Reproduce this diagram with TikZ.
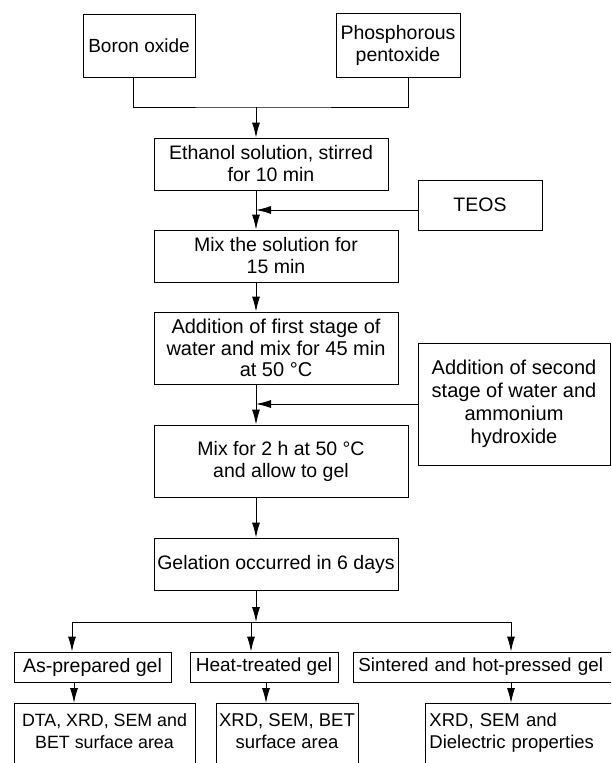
\documentclass[tikz,border=0pt]{standalone}
\usepackage{fontspec}
\setmainfont{Liberation Sans}
\usetikzlibrary{arrows.meta}
\tikzset{
  basic/.style  = {draw, rectangle, line width=0.9pt, align=center, inner sep=2pt,
                   font=\fontsize{19.5}{22}\selectfont},
  stepbox/.style = {basic},
  inbox/.style   = {basic},
  gelbox/.style  = {basic, minimum height=30pt},
  testbox/.style = {basic, anchor=north, inner ysep=3pt, text height=42.5pt, text depth=60pt,
                    font=\fontsize{18.5}{22.5}\selectfont}
}

\begin{document}
\begin{tikzpicture}[x=1pt,y=-1pt,>={Latex[length=15pt,width=8pt]},line width=0.9pt]
\useasboundingbox (0,0) rectangle (611,763);
\clip (0,0) rectangle (611,763);

% starting materials and additions are inbox, main line is stepbox
\node[inbox, minimum width=112pt, minimum height=63pt, font=\fontsize{19}{22}\selectfont] (boron) at (139,45.5) {Boron oxide};
\node[inbox, minimum width=124pt, minimum height=64pt] (phos) at (398,45) {Phosphorous\\pentoxide};

\node[stepbox, minimum width=234pt, minimum height=52pt] (ethanol) at (271,164) {Ethanol solution, stirred\\for 10 min};
\node[inbox, minimum width=124pt, minimum height=50pt] (teos) at (480,205) {TEOS};
\node[stepbox, minimum width=244pt, minimum height=52pt] (mix) at (276,256) {Mix the solution for\\15 min};
\node[stepbox, minimum width=244pt, minimum height=72pt, font=\fontsize{20}{21.5}\selectfont] (add1) at (276,348) {Addition of first stage of\\water and mix for 45 min\\at 50~°C};
\node[inbox, minimum width=192pt, minimum height=122pt, font=\fontsize{20}{23}\selectfont] (add2) at (514,404) {Addition of second\\stage of water and\\ammonium\\hydroxide};
\node[stepbox, minimum width=254pt, minimum height=72pt] (mixgel) at (281,461) {Mix for 2 h at 50~°C\\and allow to gel};
\node[stepbox, minimum width=244pt, minimum height=52pt] (gel) at (276,564) {Gelation occurred in 6 days};

\node[gelbox, minimum width=157pt] (asprep) at (92.5,667) {As-prepared gel};
\node[gelbox, minimum width=148pt, font=\fontsize{19}{22}\selectfont] (heat) at (264,667) {Heat-treated gel};
\node[gelbox, anchor=west, inner xsep=5pt, text width=280pt, align=left, font=\fontsize{18.8}{22}\selectfont] (sinter) at (353,667) {Sintered and hot-pressed gel};

\node[testbox, minimum width=181pt, inner xsep=0pt, font=\fontsize{17.8}{22.5}\selectfont] (meas1) at (104.5,703) {DTA, XRD, SEM and\\BET surface area};
\node[testbox, minimum width=142pt] (meas2) at (287,703) {XRD, SEM, BET\\surface area};
\node[testbox, anchor=north west, inner xsep=4pt, text width=220pt, align=left, text height=20pt, text depth=80pt] (meas3) at (425,703) {XRD, SEM and\\Dielectric properties};

\coordinate (join) at (256,107);
\coordinate (s1) at (72,622);
\coordinate (s2) at (251,622);
\coordinate (s3) at (511,622);

\draw ([xshift=-6pt]boron.south) |- (join) -| ([xshift=10pt]phos.south);
\draw[->] (join) -- (ethanol.north -| join);
\draw[->] (ethanol.south -| join) -- (mix.north -| join);
\draw[->] ([yshift=-5pt]teos.west) -- ([yshift=-5pt]teos.west -| join);
\draw[->] (mix.south -| join) -- (add1.north -| join);
\draw[->] (add1.south -| join) -- (mixgel.north -| join);
\draw[->] (add2.west) -- (add2.west -| join);
\draw[->] (mixgel.south -| join) -- (gel.north -| join);
\draw[->] (gel.south -| join) -- (s2 -| join);

\draw (s1) -- (s3);
\foreach \i/\n in {1/asprep,2/heat,3/sinter}
  \draw[->] (s\i) -- (\n.north -| s\i);
\foreach \x/\a/\b in {74/asprep/meas1,266/heat/meas2,511/sinter/meas3}
  \draw[->] (\a.south -| \x,0) -- (\b.north -| \x,0);

\end{tikzpicture}
\end{document}
